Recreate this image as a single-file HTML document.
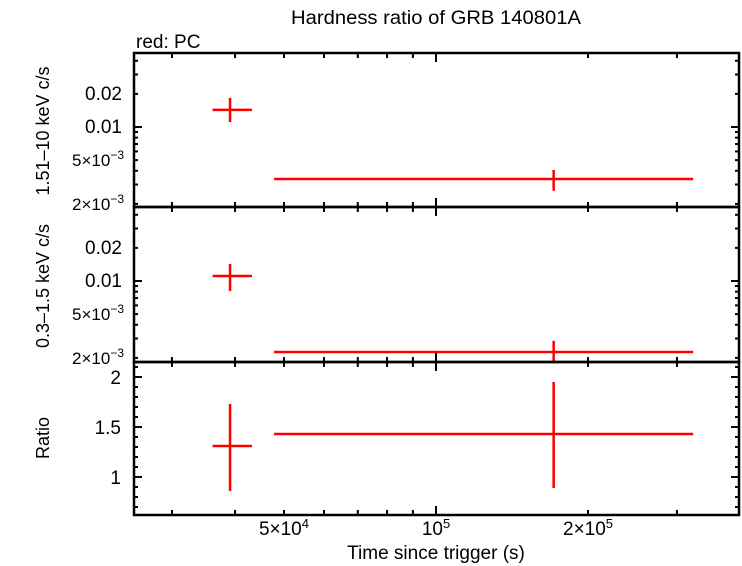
<!DOCTYPE html>
<html><head><meta charset="utf-8"><style>
body{margin:0;background:#fff;}
svg{display:block;font-family:"Liberation Sans",sans-serif;}
</style></head><body>
<svg id="c" width="742" height="566">
<text x="436" y="24" font-size="19" text-anchor="middle" textLength="290" lengthAdjust="spacingAndGlyphs">Hardness ratio of GRB 140801A</text>
<text x="136" y="48" font-size="19">red: PC</text>
<text transform="translate(49,131) rotate(-90)" font-size="18" text-anchor="middle">1.51–10 keV c/s</text>
<text transform="translate(49,286) rotate(-90)" font-size="18" text-anchor="middle">0.3–1.5 keV c/s</text>
<text transform="translate(49,438) rotate(-90)" font-size="18" text-anchor="middle">Ratio</text>
<text x="436" y="559" font-size="19" text-anchor="middle">Time since trigger (s)</text>
<g id="g"></g>
</svg>
<script>
const tCenter=[39100,171000];
const tLow=[36100,47800];
const tHigh=[43200,323000];
const hardVal=[0.0143,0.00337];
const hardLo=[0.0111,0.00263];
const hardHi=[0.0184,0.00407];
const softVal=[0.0111,0.00226];
const softLo=[0.00811,0.0017];
const softHi=[0.0143,0.00286];
const ratioVal=[1.31,1.43];
const ratioLo=[0.86,0.89];
const ratioHi=[1.73,1.95];
const xTickLabels=[[5e4,'5×10','4'],[1e5,'10','5'],[2e5,'2×10','5']];
const logTickLabels=[[0.02,'0.02',''],[0.01,'0.01',''],[5e-3,'5×10','−3'],[2e-3,'2×10','−3']];
const ratioTickLabels=[[2,'2'],[1.5,'1.5'],[1,'1']];

const NS='http://www.w3.org/2000/svg';
const g=document.getElementById('g');
const L=134,R=739;
const X=t=>436+505*Math.log10(t/1e5);
function mk(tag,a,p){const e=document.createElementNS(NS,tag);for(const k in a)e.setAttribute(k,a[k]);(p||g).appendChild(e);return e;}
const panels=[
 {top:53,bot:207,y:v=>127-110*Math.log10(v/0.01),log:true,val:hardVal,lo:hardLo,hi:hardHi,n:'hard'},
 {top:207,bot:362,y:v=>281-110*Math.log10(v/0.01),log:true,val:softVal,lo:softLo,hi:softHi,n:'soft'},
 {top:362,bot:515,y:v=>477-100*(v-1),log:false,val:ratioVal,lo:ratioLo,hi:ratioHi,n:'ratio'}
];
const xt=[];
for(let d=1e4;d<=1e6;d*=10)for(let m=1;m<10;m++){const t=d*m,x=X(t);if(x>L+2&&x<R-2)xt.push([x,m===1]);}
panels.forEach((p,pi)=>{
 const cp='cp'+pi;
 const cl=mk('clipPath',{id:cp});mk('rect',{x:L,y:p.top,width:R-L,height:p.bot-p.top},cl);
 let yt=[];
 if(p.log){for(let d=1e-4;d<1;d*=10)for(let m=1;m<10;m++){const v=d*m,y=p.y(v);if(y>p.top+1&&y<p.bot-1)yt.push([y,m===1]);}}
 else{for(let v=0.6;v<=2.2;v+=0.1){const y=p.y(v);if(y>p.top+1&&y<p.bot-1)yt.push([y,Math.abs(v*2-Math.round(v*2))<1e-6]);}}
 yt.forEach(([y,maj])=>{const len=maj?8:4;
  mk('line',{x1:L,y1:y,x2:L+len,y2:y,stroke:'#000','stroke-width':2,});
  mk('line',{x1:R,y1:y,x2:R-len,y2:y,stroke:'#000','stroke-width':2,});});
 xt.forEach(([x,maj])=>{const len=maj?9:5;
  const a=pi===0?p.top:p.top-len;
  mk('line',{x1:x,y1:a,x2:x,y2:p.top+len,stroke:'#000','stroke-width':2,});
  if(pi===2)mk('line',{x1:x,y1:p.bot,x2:x,y2:p.bot-len,stroke:'#000','stroke-width':2,});
 });
 if(p.log){logTickLabels.forEach(([v,s,sup])=>{const t=mk('text',{x:sup?124:122,y:p.y(v)+6,'font-size':sup?17:19,'text-anchor':'end',});
   t.textContent=s;if(sup){const ts=mk('tspan',{'font-size':12,dy:-7},t);ts.textContent=sup;}});}
 else ratioTickLabels.forEach(([v,s])=>{const t=mk('text',{x:121,y:p.y(v)+7,'font-size':19,'text-anchor':'end',});t.textContent=s;});
 const dg=mk('g',{'clip-path':'url(#'+cp+')',});
 for(let i=0;i<tCenter.length;i++){
  const xc=X(tCenter[i]),yc=p.y(p.val[i]);
  mk('line',{x1:X(tLow[i]),y1:yc,x2:X(tHigh[i]),y2:yc,stroke:'#f00','stroke-width':2.5,},dg);
  mk('line',{x1:xc,y1:p.y(p.lo[i]),x2:xc,y2:p.y(p.hi[i]),stroke:'#f00','stroke-width':2.5,},dg);
 }
 mk('rect',{x:L,y:p.top,width:R-L,height:p.bot-p.top,fill:'none',stroke:'#000','stroke-width':2.5,});
});
xTickLabels.forEach(([t,s,sup])=>{const e=mk('text',{x:X(t),y:535,'font-size':19,'text-anchor':'middle',});e.textContent=s;const ts=mk('tspan',{'font-size':13,dy:-7},e);ts.textContent=sup;});
</script>
</body></html>
